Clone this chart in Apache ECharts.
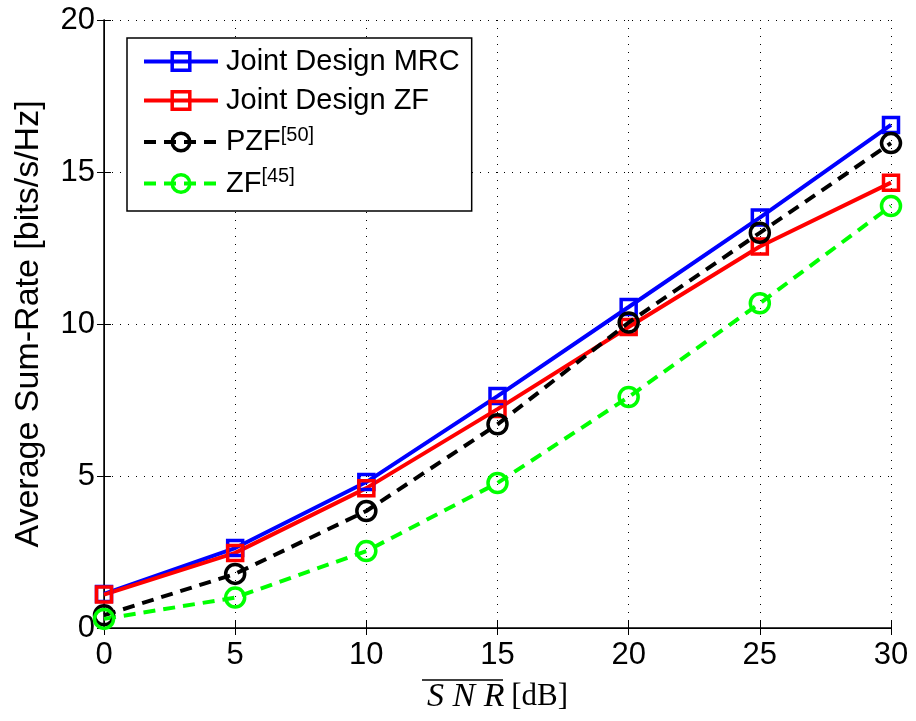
<!DOCTYPE html>
<html>
<head>
<meta charset="utf-8">
<script src="https://cdn.jsdelivr.net/npm/echarts@6/dist/echarts.min.js"></script>
<style>
  html, body { margin: 0; padding: 0; background: #fff; }
  #chart { width: 916px; height: 721px; }
</style>
</head>
<body>
<div id="chart"></div>
<script>
  // values
  const snr = [0, 5, 10, 15, 20, 25, 30]
  const jointMrc = [1.12, 2.63, 4.8, 7.63, 10.56, 13.5, 16.55]
  const jointZf = [1.1, 2.47, 4.6, 7.2, 9.9, 12.55, 14.65]
  const pzf = [0.42, 1.78, 3.85, 6.7, 10.05, 13.0, 15.95]
  const zf = [0.3, 1.0, 2.53, 4.77, 7.6, 10.68, 13.88]
  const legendNames = ['Joint Design MRC', 'Joint Design ZF', 'PZF[50]', 'ZF[45]']

  const font = 'Liberation Sans, Arial, Helvetica, sans-serif'
  const serif = 'Liberation Serif, DejaVu Serif, serif'
  const pairs = arr => snr.map((x, i) => [x, arr[i]])

  function lineSeries (name, data, color, symbol, size, dashed) {
    return {
      name: name,
      type: 'line',
      data: pairs(data),
      symbol: symbol,
      symbolSize: size,
      showAllSymbol: true,
      lineStyle: { color: color, width: 4, type: dashed ? [12, 8] : 'solid' },
      itemStyle: { color: 'rgba(255,255,255,0)', borderColor: color, borderWidth: 3.5 },
      emphasis: { disabled: true },
      z: dashed ? 3 : 2
    }
  }

  const hiddenAxis = {
    axisLine: { show: true, lineStyle: { color: '#000', width: 1 } },
    axisTick: { show: true, inside: true, length: 7, lineStyle: { color: '#000' } },
    axisLabel: { show: false },
    splitLine: { show: false }
  }

  let chart = echarts.init(document.getElementById('chart'))
  chart.setOption({
    animation: false,
    backgroundColor: '#fff',
    grid: { left: 104, right: 25, top: 20, bottom: 93 },
    legend: {
      data: legendNames,
      orient: 'vertical',
      left: 127,
      top: 38,
      padding: [9, 12, 13, 15],
      itemWidth: 74,
      itemHeight: 22,
      itemGap: 10,
      backgroundColor: '#fff',
      borderColor: '#000',
      borderWidth: 1.5,
      borderRadius: 0,
      lineStyle: { width: 4 },
      itemStyle: { borderWidth: 3.5 },
      formatter: function (n) {
        if (n === 'PZF[50]') return 'PZF{sup|[50]}'
        if (n === 'ZF[45]') return 'ZF{sup|[45]}'
        return n
      },
      textStyle: {
        fontFamily: font,
        fontSize: 29,
        color: '#000',
        padding: [0, 0, 0, 3],
        rich: {
          sup: { fontFamily: font, fontSize: 20, verticalAlign: 'top', padding: [0, 0, 14, 0], color: '#000' }
        }
      }
    },
    xAxis: [{
      type: 'value',
      min: 0,
      max: 30,
      interval: 5,
      name: '{it|S N R}  {rm|[dB]}',
      nameLocation: 'middle',
      nameGap: 52,
      nameTextStyle: {
        rich: {
          it: { fontFamily: serif, fontStyle: 'italic', fontSize: 34, color: '#000' },
          rm: { fontFamily: serif, fontSize: 31, color: '#000' }
        }
      },
      axisLine: { show: true, onZero: false, lineStyle: { color: '#000', width: 1.5 } },
      axisTick: { show: true, inside: true, length: 7, lineStyle: { color: '#000' } },
      axisLabel: { fontFamily: font, fontSize: 31, color: '#000', margin: 12 },
      splitLine: { show: true, lineStyle: { color: '#000', type: [1, 7], width: 1 } }
    }, Object.assign({ type: 'value', position: 'top', min: 0, max: 30, interval: 5 }, hiddenAxis)],
    yAxis: [{
      type: 'value',
      min: 0,
      max: 20,
      interval: 5,
      name: 'Average Sum-Rate [bits/s/Hz]',
      nameLocation: 'middle',
      nameGap: 58,
      nameTextStyle: { fontFamily: font, fontSize: 34, color: '#000' },
      axisLine: { show: true, onZero: false, lineStyle: { color: '#000', width: 1.5 } },
      axisTick: { show: true, inside: true, length: 7, lineStyle: { color: '#000' } },
      axisLabel: { fontFamily: font, fontSize: 31, color: '#000', margin: 9 },
      splitLine: { show: true, lineStyle: { color: '#000', type: [1, 7], width: 1 } }
    }, Object.assign({ type: 'value', position: 'right', min: 0, max: 20, interval: 5 }, hiddenAxis)],
    series: [
      lineSeries('Joint Design MRC', jointMrc, '#0000ff', 'rect', 15, false),
      lineSeries('Joint Design ZF', jointZf, '#ff0000', 'rect', 15, false),
      lineSeries('PZF[50]', pzf, '#000000', 'circle', 19, true),
      lineSeries('ZF[45]', zf, '#00ff00', 'circle', 19, true)
    ],
    graphic: [{
      // overline over SNR in the axis title
      type: 'line',
      shape: { x1: 422, y1: 680, x2: 503, y2: 680 },
      style: { stroke: '#000', lineWidth: 1.5 }
    }]
  })
</script>
</body>
</html>
